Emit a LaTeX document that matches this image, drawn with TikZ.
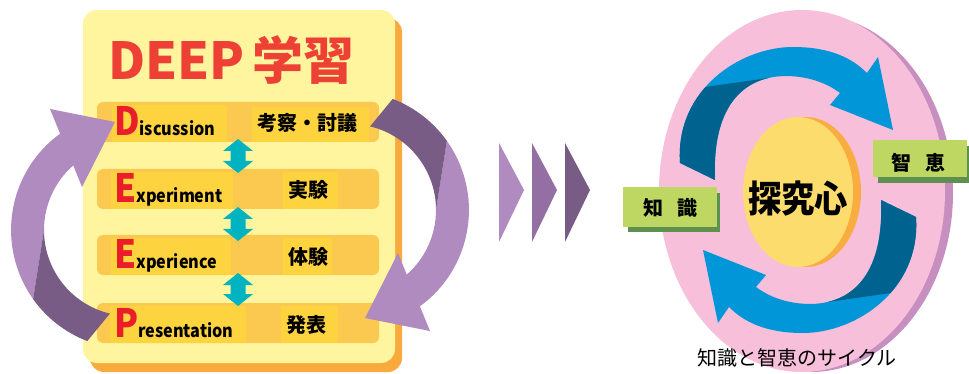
\documentclass[tikz,border=0pt]{standalone}
\usepackage{fontspec}
\usepackage{graphicx}
\setmainfont{Noto Sans CJK JP}
\definecolor{boxyellow}{HTML}{FFF59F}
\definecolor{boxorange}{HTML}{F9AA3C}
\definecolor{bandc}{HTML}{FCC950}
\definecolor{hlc}{HTML}{FDD33F}
\definecolor{titlered}{HTML}{EE4136}
\definecolor{letterred}{HTML}{E91E2A}
\definecolor{tealc}{HTML}{00B3C1}
\definecolor{plight}{HTML}{B08BBF}
\definecolor{pmid}{HTML}{936FA3}
\definecolor{pdark}{HTML}{785C86}
\definecolor{pinkc}{HTML}{F7BFD9}
\definecolor{pinkshadow}{HTML}{C68FC0}
\definecolor{bluec}{HTML}{0096D8}
\definecolor{bluedark}{HTML}{00638F}
\definecolor{coreyellow}{HTML}{FCDC6C}
\definecolor{coreorange}{HTML}{F9AD41}
\definecolor{greenc}{HTML}{BDD762}
\definecolor{greendark}{HTML}{5E9150}
\newcommand{\capl}[1]{{\fontsize{39pt}{39pt}\selectfont\color{letterred}#1}}
\newcommand{\rowtext}[2]{\scalebox{0.9}[1]{\capl{#1}#2}}
\newcommand{\purplelight}{(60.1,133.7) arc[start angle=234, end angle=144.5, radius=119] -- (44,230) arc[start angle=180, end angle=228.7, radius=86] -- (82,187) -- (115,122) -- (50,109) -- cycle}
\newcommand{\purpledark}{(33.1,299.1) arc[start angle=144.5, end angle=111, radius=119] -- (109.9,313.6) arc[start angle=103.5, end angle=180, radius=86] -- cycle}
\newcommand{\bluearrow}{(680,163) .. controls (675,90) and (740,47) .. (793,47) .. controls (830,47) and (852,58) .. (867,73) -- (878,57) -- (893,130) -- (830,105) -- (840,93) .. controls (828,84) and (810,76) .. (785,76) .. controls (740,77) and (712,110) .. (715,180) -- cycle}
\newcommand{\tealarrow}[2]{(238,#1) -- (253,#1+12) -- (245.5,#1+12) -- (245.5,#2-12) -- (253,#2-12) -- (238,#2) -- (223,#2-12) -- (230.5,#2-12) -- (230.5,#1+12) -- (223,#1+12) -- cycle}
\begin{document}
\begin{tikzpicture}[x=1pt,y=-1pt,
  bandbox/.style={fill=bandc, rounded corners=6pt},
  hlbox/.style={fill=hlc},
  rowlatin/.style={inner sep=0pt, anchor=base west, font=\fontsize{18pt}{18pt}\selectfont\bfseries},
  rowjp/.style={inner sep=0pt, anchor=base, font=\fontsize{20pt}{20pt}\selectfont\bfseries},
  greenlabel/.style={inner sep=0pt, anchor=base, font=\fontsize{20pt}{20pt}\selectfont\bfseries}]
\useasboundingbox (0,0) rectangle (969,374);
% ---------- left panel
\fill[boxorange, rounded corners=14pt] (90,18) rectangle (402,372);
\fill[boxyellow, rounded corners=14pt] (83,10) rectangle (395,363);
\node[inner sep=0pt, anchor=base, text=titlered, font=\fontsize{51pt}{51pt}\selectfont\bfseries] (title) at (231.5,80) {DEEP\hspace{0.15em}学習};
% bands
\fill[bandbox] (97,102) rectangle (379,142);
\fill[bandbox] (97,169) rectangle (379,209);
\fill[bandbox] (97,235) rectangle (379,275);
\fill[bandbox] (97,303) rectangle (379,343);
% highlights
\fill[hlbox] (112,105) rectangle (227,142);
\fill[hlbox] (252,107) rectangle (369,142);
\fill[hlbox] (111,172) rectangle (233,209);
\fill[hlbox] (283,172) rectangle (338,209);
\fill[hlbox] (111,238) rectangle (231,275);
\fill[hlbox] (283,238) rectangle (332,275);
\fill[hlbox] (110,306) rectangle (246,343);
\fill[hlbox] (281,306) rectangle (338,343);
% teal double arrows
\fill[tealc] \tealarrow{139}{173};
\fill[tealc] \tealarrow{207}{241};
\fill[tealc] \tealarrow{273}{306};
% purple circular arrows
\fill[plight] \purplelight;
\fill[pdark] \purpledark;
\begin{scope}[rotate around={180:(240,220)}]
\fill[plight] \purplelight;
\fill[pdark] \purpledark;
\end{scope}
% row texts
\node[rowlatin] (discussion) at (114,136) {\rowtext{D}{iscussion}};
\node[rowlatin] (experiment) at (114,203) {\rowtext{E}{xperiment}};
\node[rowlatin] (experience) at (114,269) {\rowtext{E}{xperience}};
\node[rowlatin] (presentation) at (114,337) {\rowtext{P}{resentation}};
\node[rowjp] (kousatsu) at (307.5,131) {考察・討議};
\node[rowjp] (jikken) at (308.5,198) {実験};
\node[rowjp] (taiken) at (308.5,264) {体験};
\node[rowjp] (happyou) at (306.5,332) {発表};
% ---------- chevrons
\fill[plight] (499,143) -- (524,190) -- (499,242) -- cycle;
\fill[pmid] (532,143) -- (557,190) -- (532,242) -- cycle;
\fill[pdark] (565,143) -- (590,190) -- (565,242) -- cycle;
% ---------- right panel
\fill[pinkshadow] (811,193) ellipse[x radius=142, y radius=179];
\fill[pinkc] (802,191) ellipse[x radius=143, y radius=181];
\fill[bluec] \bluearrow;
\begin{scope}
\clip (640,96.3) -- (768,78) -- (768,200) -- (640,200) -- cycle;
\fill[bluedark] \bluearrow;
\end{scope}
\begin{scope}[rotate around={180:(798,190)}]
\fill[bluec] \bluearrow;
\begin{scope}
\clip (640,96.3) -- (768,78) -- (768,200) -- (640,200) -- cycle;
\fill[bluedark] \bluearrow;
\end{scope}
\end{scope}
\fill[coreorange] (806,192) ellipse[x radius=55, y radius=75];
\fill[coreyellow] (798,192) ellipse[x radius=55, y radius=75];
\node[inner sep=0pt, anchor=base, font=\fontsize{37pt}{37pt}\selectfont\bfseries] (tankyu) at (798,212.5) {\scalebox{0.9}[1]{探究心}};
\fill[greendark] (628,193) rectangle (720,232);
\fill[greenc] (623,187) rectangle (717,227);
\node[greenlabel] (chishiki) at (670,216) {知\hspace{14pt}識};
\fill[greendark] (878,146) rectangle (969,183);
\fill[greenc] (873,140) rectangle (967,177);
\node[greenlabel] (chie) at (918.5,170.5) {智\hspace{14pt}恵};
\node[inner sep=0pt, anchor=base, font=\fontsize{20pt}{20pt}\selectfont] (caption) at (797,365) {知識と智恵のサイクル};
\end{tikzpicture}
\end{document}
